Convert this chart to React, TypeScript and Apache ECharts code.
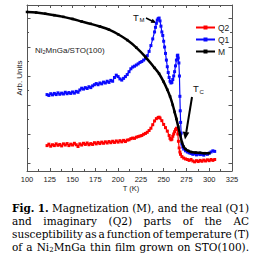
import React, { useEffect, useRef } from "react";
import * as echarts from "echarts";

// ---- data ----
const T_Q1 = [122,124,126,128,130,132,134,136,138,140,142,144,146,148,150,152,154,156,158,160,162,164,166,168,170,172,174,176,178,180,182,184,186,188,190,192,194,196,198,200,202,204,206,208,210,212,214,216,218,220,222,224,226,228,230,232,234,236,238,240,241,242,243,244,245,246,247,248,249,250,251,252,253,254,255,256,257,258,259,260,261,262,263,264,265,265.5,266,266.7,267.3,267.8,268.2,268.6,269.2,270,271,272,274,276,278,280,282,284,286,288,290,292,294,296,298,300,302,304,306];
const Q1 = [2.36,2.33,2.39,2.35,2.40,2.36,2.42,2.37,2.41,2.38,2.44,2.39,2.43,2.40,2.45,2.41,2.47,2.44,2.52,2.58,2.55,2.60,2.57,2.63,2.60,2.66,2.70,2.74,2.70,2.76,2.73,2.79,2.76,2.82,2.78,2.85,2.82,2.95,3.03,2.98,2.90,2.86,2.92,2.98,3.05,3.15,3.25,3.31,3.34,3.38,3.42,3.47,3.50,3.55,3.60,3.70,3.85,4.05,4.28,4.52,4.68,4.82,4.93,4.98,5.00,4.90,4.72,4.52,4.40,4.20,4.00,3.78,3.55,3.32,3.12,2.95,2.82,2.76,2.78,2.88,3.00,3.15,3.35,3.55,3.70,3.72,3.62,3.45,3.00,2.30,1.80,1.40,1.03,0.65,0.55,0.48,0.42,0.38,0.35,0.33,0.30,0.32,0.28,0.31,0.29,0.30,0.27,0.32,0.30,0.34,0.38,0.42,0.40];

const T_Q2 = [122,124,126,128,130,132,134,136,138,140,142,144,146,148,150,152,154,156,158,160,162,164,166,168,170,172,174,176,178,180,182,184,186,188,190,192,194,196,198,200,202,204,206,208,210,212,214,216,218,220,222,224,226,228,230,232,234,236,238,240,242,244,245,246,248,250,252,254,256,257,258,259,260,261,262,263,264,264.8,265.5,266.2,267,267.8,268.5,270,272,274,276,278,280,282,284,286,288,290,292,294,296,298,300,302,304,306];
const Q2 = [0.60,0.65,0.58,0.63,0.60,0.66,0.61,0.64,0.59,0.66,0.62,0.67,0.60,0.65,0.62,0.68,0.63,0.57,0.66,0.62,0.68,0.64,0.69,0.63,0.67,0.64,0.70,0.66,0.71,0.67,0.72,0.68,0.73,0.69,0.74,0.70,0.75,0.71,0.76,0.72,0.77,0.73,0.78,0.74,0.79,0.80,0.84,0.86,0.85,0.89,0.91,0.93,0.95,0.99,1.02,1.06,1.12,1.20,1.32,1.45,1.53,1.57,1.58,1.55,1.46,1.33,1.22,1.10,0.95,0.85,0.80,0.82,0.92,1.00,1.08,1.15,1.20,1.18,1.00,0.75,0.52,0.38,0.30,0.22,0.17,0.14,0.12,0.09,0.12,0.07,0.04,0.08,0.05,0.09,0.06,0.10,0.07,0.11,0.08,0.12,0.09,0.12];

const T_M = [100,110,120,130,140,150,160,170,180,190,200,210,220,230,240,245,250,254,257,260,262,264,266,268,270,272,274,277,280,285,290,295,300];
const M = [5.21,5.19,5.15,5.10,5.04,4.97,4.88,4.80,4.71,4.60,4.44,4.24,3.98,3.66,3.28,3.08,2.80,2.53,2.30,2.00,1.76,1.52,1.25,0.98,0.72,0.56,0.48,0.42,0.38,0.36,0.35,0.34,0.34];

const X_MIN = 100;
const X_MAX = 325;
const X_STEP = 25;
const Y_MIN = -0.276;
const Y_MAX = 5.45;
const Y_MAJOR = [0, 1, 2, 3, 4, 5];
const Y_MINOR = [0.5, 1.5, 2.5, 3.5, 4.5];

const LEGEND = ["Q2", "Q1", "M"];

// caption lines (justified); "_2" marks the subscript
const CAPTION = [
  "Fig. 1. Magnetization (M), and the real (Q1)",
  "and imaginary (Q2) parts of the AC",
  "susceptibility as a function of temperature (T)",
  "of a Ni_2MnGa thin film grown on STO(100).",
];
const BOLD_WORDS = 2; // first words of line 1 are bold

const pairs = (xs: number[], ys: number[]) => xs.map((x, i) => [x, ys[i]]);

const SANS = "Liberation Sans, Arial, sans-serif";
const SERIF_NAME = "DejaVu Serif";
const SERIF = "DejaVu Serif, serif";
const CAP = 10.5;
const SUB = 7;
const AX = "#555";

const CAP_X0 = 12;
const CAP_X1 = 249;
const CAP_Y0 = 208;
const CAP_DY = 13;

function makeMeasurer() {
  const c = document.createElement("canvas");
  const ctx = c.getContext("2d")!;
  return (t: string, size: number, bold = false) => {
    ctx.font = `${bold ? "bold " : ""}${size}px "${SERIF_NAME}"`;
    return ctx.measureText(t).width;
  };
}

function captionGraphics() {
  const measure = makeMeasurer();
  const out: any[] = [];
  CAPTION.forEach((line, li) => {
    const words = line.split(" ");
    const items = words.map((w, wi) => {
      const bold = li === 0 && wi < BOLD_WORDS;
      if (w.includes("_")) {
        const [a, rest] = w.split("_");
        const sub = rest.charAt(0);
        const b = rest.slice(1);
        const width = measure(a, CAP) + measure(sub, SUB) + measure(b, CAP);
        return { text: `${a}{s|${sub}}${b}`, width, bold };
      }
      return { text: w, width: measure(w, CAP, bold), bold };
    });
    const total = items.reduce((s, it) => s + it.width, 0);
    const gap = (CAP_X1 - CAP_X0 - total) / (items.length - 1);
    let x = CAP_X0;
    items.forEach((it) => {
      out.push({
        type: "text",
        x,
        y: CAP_Y0 + li * CAP_DY,
        style: {
          text: it.text,
          fontSize: CAP,
          fontFamily: SERIF,
          fontWeight: it.bold ? "bold" : "normal",
          fill: "#000",
          verticalAlign: "middle",
          rich: { s: { fontSize: SUB, fontFamily: SERIF, fill: "#000", verticalAlign: "bottom", padding: [5, 0, 0, 0] } },
        },
      });
      x += it.width + gap;
    });
  });
  return out;
}

export default function App() {
  const ref = useRef<HTMLDivElement>(null);
  useEffect(() => {
    if (!ref.current) return;
    const chart = echarts.init(ref.current, null, { renderer: "svg" });
    const xBase = {
      type: "value" as const,
      min: X_MIN,
      max: X_MAX,
      interval: X_STEP,
      splitLine: { show: false },
      axisLine: { show: true, onZero: false, lineStyle: { color: AX, width: 1 } },
      axisTick: { show: true, inside: true, length: 3, lineStyle: { color: AX } },
      minorTick: { show: true, splitNumber: 2, length: 2, lineStyle: { color: AX } },
      minorSplitLine: { show: false },
    };
    const yBase = (pos: "left" | "right", vals: number[], len: number, line: boolean) => ({
      type: "value" as const,
      min: Y_MIN,
      max: Y_MAX,
      position: pos,
      splitLine: { show: false },
      axisLabel: { show: false },
      axisLine: { show: line, onZero: false, lineStyle: { color: AX, width: 1 } },
      axisTick: { show: true, inside: true, length: len, customValues: vals, lineStyle: { color: AX } },
    });
    chart.setOption({
      animation: false,
      backgroundColor: "#fff",
      grid: { left: 27, top: 5, width: 205, height: 166, containLabel: false },
      legend: {
        data: LEGEND,
        orient: "vertical",
        left: 190,
        top: 18,
        itemWidth: 19,
        itemHeight: 5,
        itemGap: 3,
        textStyle: { fontSize: 8.5, fontFamily: SANS, color: "#222", padding: [0, 0, 0, -2] },
      },
      xAxis: [
        {
          ...xBase,
          position: "bottom",
          axisLabel: { show: true, fontSize: 7.5, margin: 4, color: "#222", fontFamily: SANS, showMinLabel: true, showMaxLabel: true },
        },
        { ...xBase, position: "top", axisLabel: { show: false } },
      ],
      yAxis: [
        yBase("left", Y_MAJOR, 3.5, true),
        yBase("right", Y_MAJOR, 3.5, true),
        yBase("left", Y_MINOR, 2, false),
        yBase("right", Y_MINOR, 2, false),
      ],
      series: [
        {
          name: "Q2",
          type: "line",
          data: pairs(T_Q2, Q2),
          symbol: "rect",
          symbolSize: 3,
          showAllSymbol: true,
          color: "#ff0000",
          lineStyle: { width: 1.2, color: "#ff0000" },
          itemStyle: { color: "#ff0000" },
          z: 2,
        },
        {
          name: "Q1",
          type: "line",
          data: pairs(T_Q1, Q1),
          symbol: "rect",
          symbolSize: 3,
          showAllSymbol: true,
          color: "#0a0aff",
          lineStyle: { width: 1.2, color: "#0a0aff" },
          itemStyle: { color: "#0a0aff" },
          z: 3,
        },
        {
          name: "M",
          type: "line",
          data: pairs(T_M, M),
          symbol: "rect",
          symbolSize: 2.5,
          showAllSymbol: true,
          smooth: 0.3,
          color: "#000",
          lineStyle: { width: 2.5, color: "#000" },
          itemStyle: { color: "#000" },
          z: 4,
        },
      ],
      graphic: [
        // axis titles
        {
          type: "text",
          x: 19,
          y: 78,
          rotation: Math.PI / 2,
          style: { text: "Arb. Units", fontSize: 8, fontFamily: SANS, fill: "#222", align: "center", verticalAlign: "middle" },
        },
        {
          type: "text",
          x: 131,
          y: 188,
          style: { text: "T (K)", fontSize: 7.5, fontFamily: SANS, fill: "#222", align: "center", verticalAlign: "middle" },
        },
        // sample label
        {
          type: "text",
          x: 35,
          y: 50,
          style: {
            text: "Ni{s|2}MnGa/STO(100)",
            fontSize: 8,
            fontFamily: SANS,
            fill: "#222",
            verticalAlign: "middle",
            rich: { s: { fontSize: 5.5, fontFamily: SANS, fill: "#222", verticalAlign: "bottom", padding: [4, 0, 0, 0] } },
          },
        },
        // T_M
        { type: "text", x: 133, y: 17, style: { text: "T", fontSize: 9.5, fontFamily: SANS, fill: "#111", verticalAlign: "middle" } },
        { type: "text", x: 139.5, y: 20, style: { text: "M", fontSize: 6, fontFamily: SANS, fill: "#111", verticalAlign: "middle" } },
        { type: "line", shape: { x1: 146, y1: 18, x2: 152, y2: 21 }, style: { stroke: "#000", lineWidth: 1.5 } },
        { type: "polygon", shape: { points: [[156.5, 23], [150.6, 22.8], [152.6, 18.8]] }, style: { fill: "#000" } },
        // T_C
        { type: "text", x: 193, y: 88, style: { text: "T", fontSize: 9.5, fontFamily: SANS, fill: "#111", verticalAlign: "middle" } },
        { type: "text", x: 199.5, y: 92, style: { text: "C", fontSize: 6, fontFamily: SANS, fill: "#111", verticalAlign: "middle" } },
        { type: "line", shape: { x1: 192, y1: 97, x2: 186.3, y2: 132 }, style: { stroke: "#000", lineWidth: 2 } },
        { type: "polygon", shape: { points: [[185, 139.5], [182.8, 131.5], [189.3, 132.6]] }, style: { fill: "#000" } },
        // caption
        ...captionGraphics(),
      ],
    });
    return () => chart.dispose();
  }, []);
  return (
    <div
      ref={ref}
      style={{ position: "fixed", left: 0, top: 0, width: 266, height: 266, background: "#fff" }}
    />
  );
}
